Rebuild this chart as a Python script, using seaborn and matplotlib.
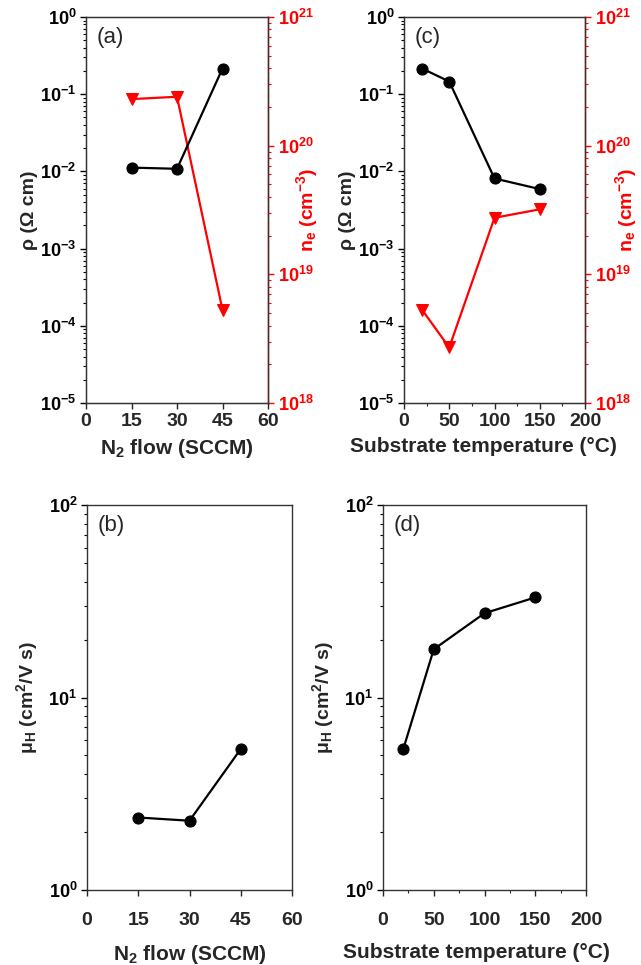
import numpy as np
import matplotlib
matplotlib.use("Agg")
import matplotlib.pyplot as plt
import matplotlib.ticker as ticker
import seaborn as sns

# N2 flow series (panels a, b)
flow = [15, 30, 45]
rho_flow = [0.0112, 0.0108, 0.215]
ne_flow = [2.3e20, 2.4e20, 5.3e18]
mu_flow = [2.38, 2.29, 5.4]

# substrate temperature series (panels c, d)
temp = [20, 50, 100, 150]
rho_temp = [0.215, 0.146, 0.0081, 0.0059]
ne_temp = [5.3e18, 2.7e18, 2.75e19, 3.2e19]
mu_temp = [5.4, 17.8, 27.4, 33.1]

sns.set_style("ticks")
plt.rcParams['font.family'] = ['Liberation Sans', 'DejaVu Sans']
plt.rcParams['mathtext.fontset'] = 'custom'
plt.rcParams['mathtext.rm'] = 'Liberation Sans'
plt.rcParams['mathtext.it'] = 'Liberation Sans:italic'
plt.rcParams['mathtext.bf'] = 'Liberation Sans:bold'

W, H = 641, 965
fig = plt.figure(figsize=(W / 100, H / 100), dpi=100)


def px_axes(l, r, t, b):
    return fig.add_axes([l / W, 1 - b / H, (r - l) / W, (b - t) / H])


ax_a = px_axes(86, 268, 17, 403)
ax_c = px_axes(404, 585, 17, 403)
ax_b = px_axes(87, 292, 505, 890)
ax_d = px_axes(383, 586, 505, 890)

pow_fmt = ticker.FuncFormatter(lambda v, p: r'$\mathbf{10^{%d}}$' % round(np.log10(v)))


def log_axis(ax, lo, hi, color='black'):
    ax.set_yscale('log')
    ax.set_ylim(lo, hi)
    ax.yaxis.set_major_locator(ticker.LogLocator(base=10, numticks=20))
    ax.yaxis.set_minor_locator(ticker.LogLocator(base=10, subs=np.arange(2, 10), numticks=20))
    ax.yaxis.set_major_formatter(pow_fmt)
    ax.yaxis.set_minor_formatter(ticker.NullFormatter())
    ax.tick_params(axis='y', which='major', length=4, width=1, labelsize=13, colors=color,
                   direction='out', pad=3)
    ax.tick_params(axis='y', which='minor', length=2.5, width=0.8, colors=color, direction='out')


def x_axis(ax, xmax, step, minor=None, pad=4):
    ax.set_xlim(0, xmax)
    ax.xaxis.set_major_locator(ticker.MultipleLocator(step))
    if minor:
        ax.xaxis.set_minor_locator(ticker.MultipleLocator(minor))
    ax.tick_params(axis='x', which='major', length=4, width=1, labelsize=14, direction='out', pad=pad)
    ax.tick_params(axis='x', which='minor', length=2.5, width=0.8, direction='out')
    for lab in ax.get_xticklabels():
        lab.set_fontweight('bold')
    for s in ax.spines.values():
        s.set_linewidth(1)
        s.set_color('#333333')


def black_line(ax, x, y):
    sns.lineplot(x=x, y=y, ax=ax, color='black', marker='o', markersize=8,
                 markeredgecolor='black', linewidth=1.6)


def red_line(ax, x, y):
    sns.lineplot(x=x, y=y, ax=ax, color='red', marker='v', markersize=8,
                 markeredgecolor='red', linewidth=1.6)


xlab_kw = dict(fontsize=15, fontweight='bold')
ylab_kw = dict(fontsize=14, fontweight='bold')
flow_lab = r'$\mathbf{N_2}$ flow (SCCM)'
temp_lab = 'Substrate temperature (°C)'
rho_lab = 'ρ (Ω cm)'
ne_lab = r'$\mathbf{n_e\ (cm^{-3})}$'
mu_lab = r'$\mathbf{\mu_H\ (cm^2/V\ s)}$'

# (a) and (c): resistivity + carrier concentration
for ax, x, rho, ne, xmax, step, minor, xl, xlx, tag, nx in [
        (ax_a, flow, rho_flow, ne_flow, 60, 15, None, flow_lab, 0.5, '(a)', 1.215),
        (ax_c, temp, rho_temp, ne_temp, 200, 50, 25, temp_lab, 0.44, '(c)', 1.225)]:
    black_line(ax, x, rho)
    log_axis(ax, 1e-5, 1)
    x_axis(ax, xmax, step, minor, pad=3)
    ax.set_xlabel(xl, labelpad=5, **xlab_kw)
    ax.xaxis.label.set_x(xlx)
    ax.set_ylabel(rho_lab, labelpad=1, **ylab_kw)
    ax.text(0.06, 0.975, tag, transform=ax.transAxes, va='top', ha='left', fontsize=16)
    ax2 = ax.twinx()
    red_line(ax2, x, ne)
    log_axis(ax2, 1e18, 1e21, color='red')
    ax2.spines['right'].set_color('red')
    ax2.spines['right'].set_linewidth(1)
    ax2.set_ylabel(ne_lab, color='red', **ylab_kw)
    ax2.yaxis.label.set_va('center')
    ax2.yaxis.set_label_coords(nx, 0.5)
    ax2.set_zorder(ax.get_zorder() - 1)
    ax.patch.set_visible(False)

# (b) and (d): Hall mobility
for ax, x, mu, xmax, step, minor, xl, xlx, tag in [
        (ax_b, flow, mu_flow, 60, 15, None, flow_lab, 0.5, '(b)'),
        (ax_d, temp, mu_temp, 200, 50, 25, temp_lab, 0.46, '(d)')]:
    black_line(ax, x, mu)
    log_axis(ax, 1, 100)
    x_axis(ax, xmax, step, minor, pad=12)
    ax.set_xlabel(xl, labelpad=10, **xlab_kw)
    ax.xaxis.label.set_x(xlx)
    ax.set_ylabel(mu_lab, labelpad=6, **ylab_kw)
    ax.text(0.05, 0.975, tag, transform=ax.transAxes, va='top', ha='left', fontsize=16)

plt.savefig("out.png", dpi=100)
